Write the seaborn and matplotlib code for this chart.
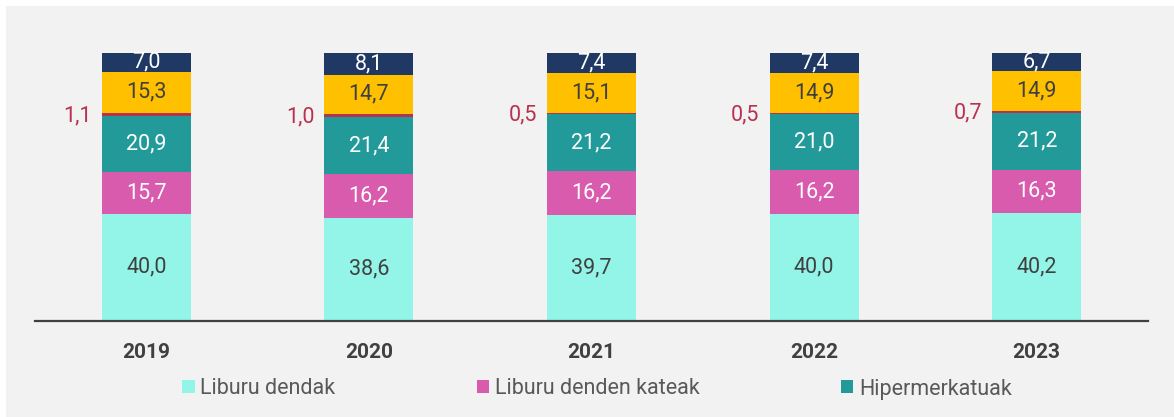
import numpy as np
import pandas as pd
import matplotlib
matplotlib.use("Agg")
import matplotlib.pyplot as plt
from matplotlib.patches import Patch
import seaborn as sns

# Data (percent shares per year)
years = ["2019", "2020", "2021", "2022", "2023"]
liburu_dendak = [40.0, 38.6, 39.7, 40.0, 40.2]
denden_kateak = [15.7, 16.2, 16.2, 16.2, 16.3]
hipermerkatuak = [20.9, 21.4, 21.2, 21.0, 21.2]
kioskoak = [1.1, 1.0, 0.5, 0.5, 0.7]
internet = [15.3, 14.7, 15.1, 14.9, 14.9]
besteak = [7.0, 8.1, 7.4, 7.4, 6.7]

series = [
    ("Liburu dendak", liburu_dendak, "#93F5E8", "#404040"),
    ("Liburu denden kateak", denden_kateak, "#D95BAE", "white"),
    ("Hipermerkatuak", hipermerkatuak, "#239A9A", "white"),
    ("Kioskoak", kioskoak, "#B8314F", "#B8314F"),
    ("Internet", internet, "#FFC000", "#404040"),
    ("Besteak", besteak, "#1F3864", "white"),
]
legend_names = ["Liburu dendak", "Liburu denden kateak", "Hipermerkatuak"]

sns.set_style("white")
plt.rcParams["font.family"] = ["Roboto", "DejaVu Sans"]

fs = 15.5
bg = "#F2F2F2"
fig = plt.figure(figsize=(11.74, 4.17), dpi=100, facecolor="white")
# gray panel behind everything
fig.patches.append(plt.Rectangle((6 / 1174, 0), 1, (417 - 6) / 417,
                                 transform=fig.transFigure, facecolor=bg,
                                 edgecolor="none", zorder=-10))
ax = fig.add_axes([35 / 1174, (417 - 321) / 417, (1148 - 35) / 1174, (321 - 53) / 417])
ax.set_facecolor("none")

bottom = np.zeros(len(years))
for name, vals, color, tcol in series:
    df = pd.DataFrame({"year": years, "value": vals})
    sns.barplot(data=df, x="year", y="value", order=years, bottom=bottom.copy(),
                color=color, saturation=1, width=0.4, errorbar=None,
                linewidth=0, ax=ax)
    for i, v in enumerate(vals):
        label = f"{v:.1f}".replace(".", ",")
        if name == "Kioskoak":
            ax.text(i - 0.245, bottom[i] + v / 2 - 0.6, label, ha="right", va="center",
                    fontsize=fs, color=tcol)
        else:
            ax.text(i, bottom[i] + v / 2, label, ha="center", va="center",
                    fontsize=fs, color=tcol)
    bottom += np.array(vals)

ax.set_xlim(-0.5, 4.5)
ax.set_ylim(0, 100)
ax.set_xlabel("")
ax.set_ylabel("")
ax.set_yticks([])
for s in ["top", "right", "left"]:
    ax.spines[s].set_visible(False)
ax.spines["bottom"].set_color("#404040")
ax.spines["bottom"].set_linewidth(1.6)
ax.tick_params(axis="x", length=0, pad=16, labelsize=15, labelcolor="#404040")
for t in ax.get_xticklabels():
    t.set_fontweight("bold")

handles = [Patch(facecolor=c, edgecolor="none") for n, v, c, t in series if n in legend_names]
fig.legend(handles, legend_names, loc="center", bbox_to_anchor=(597 / 1174, 28 / 417),
           ncol=3, frameon=False, fontsize=fs, labelcolor="#595959",
           handlelength=0.56, handleheight=0.56, handletextpad=0.25, columnspacing=6.6)

fig.savefig("out.png", dpi=100, facecolor="white")
